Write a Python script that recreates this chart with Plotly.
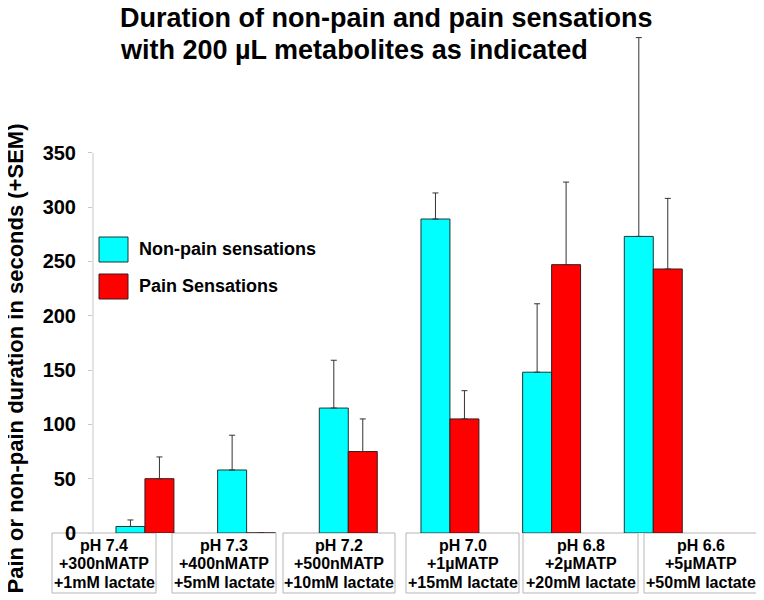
import plotly.graph_objects as go

# ---- data ----
label_lines = [
    ["pH 7.4", "+300nMATP", "+1mM lactate"],
    ["pH 7.3", "+400nMATP", "+5mM lactate"],
    ["pH 7.2", "+500nMATP", "+10mM lactate"],
    ["pH 7.0", "+1µMATP", "+15mM lactate"],
    ["pH 6.8", "+2µMATP", "+20mM lactate"],
    ["pH 6.6", "+5µMATP", "+50mM lactate"],
]
non_pain = [6, 58, 115, 289, 148, 273]
non_pain_sem = [6, 32, 44, 24, 63, 183]
pain = [50, 0, 75, 105, 247, 243]
pain_sem = [20, 0, 30, 26, 76, 65]
y_ticks = [0, 50, 100, 150, 200, 250, 300, 350]
series_names = ["Non-pain sensations", "Pain Sensations"]
title_lines = ["Duration of non-pain and pain sensations",
               "with 200 µL metabolites as indicated"]
y_title = "Pain or non-pain duration in seconds (+SEM)"

# ---- layout geometry (screen pixels; page body adds an 8px offset) ----
OFF = 8
W, H = 764 - OFF, 600 - OFF
PL, PR, PT, PB = 93, 758, 30, 533          # plot area on screen
label_boxes_px = [(52, 156), (172, 276), (283, 395), (406, 519), (523, 638), (644, 758)]
label_box_y = (533, 593)
label_line_y = [545, 563, 582]


def px_x(px):
    return (px - PL) / (PR - PL)


def px_y(py):
    return (PB - py) / (PB - PT)


FONT = "Arial, Liberation Sans, Helvetica, sans-serif"
CYAN = "#00FFFF"
RED = "#FF0000"
xs = list(range(len(label_lines)))

fig = go.Figure()
fig.add_trace(go.Bar(
    x=xs, y=non_pain, name=series_names[0],
    marker=dict(color=CYAN, line=dict(color="#1f3535", width=1)),
    error_y=dict(type="data", array=non_pain_sem, arrayminus=[0] * len(xs),
                 symmetric=False, color="#333333", thickness=1, width=3),
    showlegend=False,
))
fig.add_trace(go.Bar(
    x=xs, y=pain, name=series_names[1],
    marker=dict(color=RED, line=dict(color="#3a1a1a", width=1)),
    error_y=dict(type="data", array=pain_sem, arrayminus=[0] * len(xs),
                 symmetric=False, color="#333333", thickness=1, width=3),
    showlegend=False,
))

annotations = []
shapes = []
# category label boxes
for lines, (bx0, bx1) in zip(label_lines, label_boxes_px):
    shapes.append(dict(type="rect", xref="paper", yref="paper",
                       x0=px_x(bx0), x1=px_x(bx1),
                       y0=px_y(label_box_y[1]), y1=px_y(label_box_y[0]),
                       fillcolor="white", line=dict(color="#b5b5b5", width=1),
                       layer="below"))
    cx = (bx0 + bx1) / 2
    for line, ly in zip(lines, label_line_y):
        annotations.append(dict(
            text="<b>" + line + "</b>", xref="paper", yref="paper",
            x=px_x(cx), y=px_y(ly), xanchor="center", yanchor="middle",
            showarrow=False, font=dict(family=FONT, size=16, color="black"),
        ))
# title
for line, ly in zip(title_lines, [18, 50]):
    annotations.append(dict(
        text="<b>" + line + "</b>", xref="paper", yref="paper",
        x=px_x(118), y=px_y(ly), xanchor="left", yanchor="middle",
        showarrow=False, font=dict(family=FONT, size=27, color="black"),
    ))
# y-axis title
annotations.append(dict(
    text="<b>" + y_title + "</b>", xref="paper", yref="paper",
    x=px_x(15), y=px_y(358.5), xanchor="center", yanchor="middle",
    textangle=-90, showarrow=False,
    font=dict(family=FONT, size=22, color="black"),
))
# legend text
for name, cy in zip(series_names, [249, 286]):
    annotations.append(dict(
        text="<b>" + name + "</b>", xref="paper", yref="paper",
        x=px_x(137), y=px_y(cy), xanchor="left", yanchor="middle",
        showarrow=False, font=dict(family=FONT, size=18, color="black"),
    ))

shapes += [
    # y axis line up to the top tick
    dict(type="line", xref="paper", yref="y", x0=0, x1=0, y0=0, y1=y_ticks[-1],
         line=dict(color="#c8c8c8", width=1)),
    # legend swatches
    dict(type="rect", xref="paper", yref="paper",
         x0=px_x(99), x1=px_x(128), y0=px_y(262), y1=px_y(237),
         fillcolor=CYAN, line=dict(color="#1f3535", width=1)),
    dict(type="rect", xref="paper", yref="paper",
         x0=px_x(99), x1=px_x(128), y0=px_y(299), y1=px_y(274),
         fillcolor=RED, line=dict(color="#3a1a1a", width=1)),
]

fig.update_layout(
    width=W, height=H,
    margin=dict(l=PL - OFF, r=(W + OFF) - PR, t=PT - OFF, b=(H + OFF) - PB, pad=0),
    paper_bgcolor="white", plot_bgcolor="white",
    barmode="group", bargap=0.43, bargroupgap=0,
    annotations=annotations, shapes=shapes,
    xaxis=dict(range=[-0.511, 6.03], showticklabels=False, showgrid=False,
               zeroline=False, showline=False, ticks=""),
    yaxis=dict(range=[0, 463], tickvals=y_ticks,
               ticktext=["<b>%d</b>" % v for v in y_ticks],
               tickfont=dict(family=FONT, size=20, color="black"),
               ticks="outside", ticklen=4, tickcolor="#c8c8c8",
               ticklabelstandoff=8,
               showgrid=False, zeroline=False, showline=False),
)

fig.write_html("out.html")
